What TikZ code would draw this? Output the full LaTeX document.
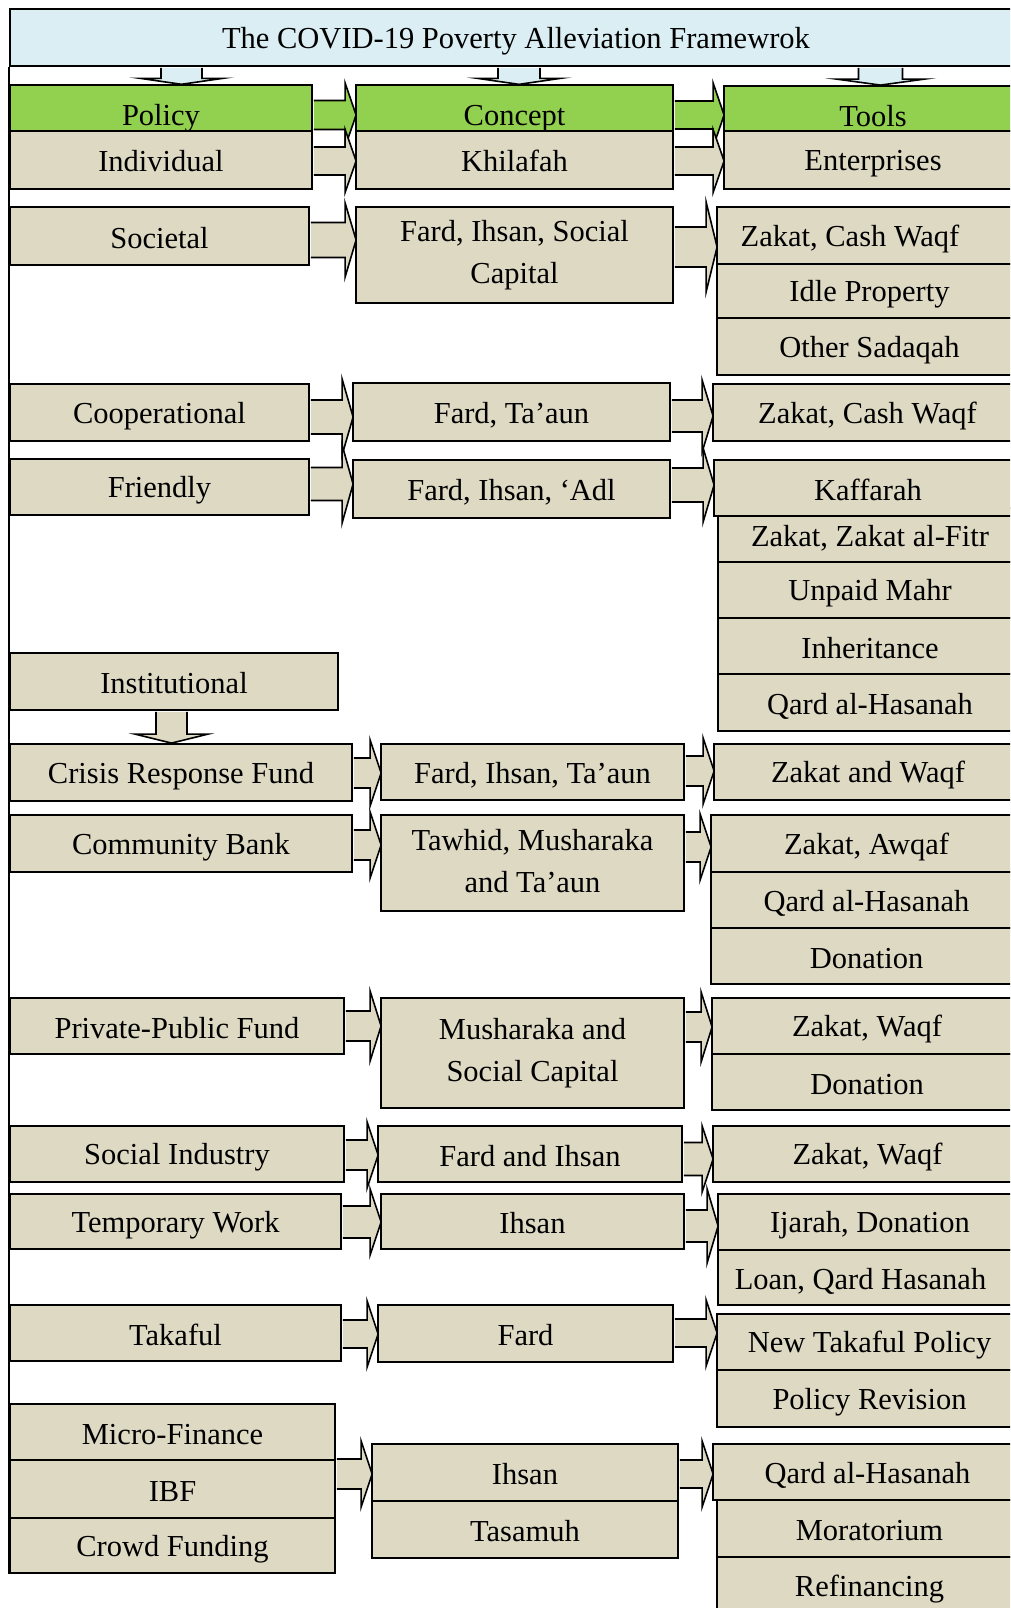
\documentclass[tikz,border=0pt]{standalone}
\usepackage{fontspec}
\setmainfont{Liberation Serif}
\usetikzlibrary{calc}
\definecolor{tanc}{HTML}{DDD9C3}
\definecolor{grn}{HTML}{92D050}
\definecolor{lblue}{HTML}{DAEEF3}
\tikzset{
  bx/.style={draw=black, line width=1.8pt, fill=tanc, rectangle, inner sep=0pt, align=center,
    execute at begin node={\rule[-4pt]{0pt}{32pt}}},
  hdr/.style={fill=grn, execute at begin node={\rule[-2pt]{0pt}{42pt}}},
  ttl/.style={fill=lblue},
  arr/.style={draw=black, line width=1.6pt, line join=miter, miter limit=20},
}
% box: [style] name x1 y1 x2 y2 text
\newcommand\mybox[7][]{%
  \pgfmathsetmacro\bw{#5-#3}\pgfmathsetmacro\bh{#6-#4}%
  \node[bx,#1,minimum width=\bw pt,minimum height=\bh pt] (#2) at ({(#3+#5)/2},{(#4+#6)/2}) {#7};}
% right block arrow: [fill] src dst yc h H
\newcommand\barrow[6][tanc]{%
  \path (#2.east |- 0,#4) coordinate (ba) (#3.west |- 0,#4) coordinate (bb);
  \draw[arr,fill=#1] ($(ba)+(1,-#5)$) -- ($(bb)+(-10,-#5)$) -- ($(bb)+(-10,-#6)$) -- ($(bb)+(1,0)$)
     -- ($(bb)+(-10,#6)$) -- ($(bb)+(-10,#5)$) -- ($(ba)+(1,#5)$);}
% down block arrow: fill src dst cx hw HW depth
\newcommand\darrow[7]{%
  \path (#2.south -| #4,0) coordinate (da) (#3.north -| #4,0) coordinate (db);
  \draw[arr,fill=#1] ($(da)+(-#5,1)$) -- ($(db)+(-#5,-#7)$) -- ($(db)+(-#6,-#7)$) -- (db)
     -- ($(db)+(#6,-#7)$) -- ($(db)+(#5,-#7)$) -- ($(da)+(#5,1)$);}
\begin{document}
\begin{tikzpicture}[x=1pt,y=-1pt,font=\fontsize{30.5}{42}\selectfont]
\useasboundingbox (0,0) rectangle (1010,1608);
\clip (0,0) rectangle (1010,1608);
\fill[white] (0,0) rectangle (1010,1608);
\def\R{1022}
% title
\mybox[ttl]{title}{10}{9}{\R}{66}{The COVID-19 Poverty Alleviation Framewrok}
% column 1
\mybox[hdr]{pol}{10}{86}{312}{131}{Policy}
\mybox{ind}{10}{131}{312}{189}{Individual}
\mybox{soc}{10}{207}{309}{265}{Societal}
\mybox{coop}{10}{384}{309}{441}{Cooperational}
\mybox{fri}{10}{459}{309}{515}{Friendly}
\mybox{inst}{10}{653}{338}{710}{Institutional}
\mybox{crf}{10}{744}{352}{801}{Crisis Response Fund}
\mybox{cb}{10}{815}{352}{872}{Community Bank}
\mybox{ppf}{10}{998}{344}{1054}{Private-Public Fund}
\mybox{si}{10}{1126}{344}{1182}{Social Industry}
\mybox{tw}{10}{1194}{341}{1249}{Temporary Work}
\mybox{tak}{10}{1305}{341}{1361}{Takaful}
\mybox{mf}{10}{1404}{335}{1460}{Micro-Finance}
\mybox{ibf}{10}{1460}{335}{1518}{IBF}
\mybox{cf}{10}{1518}{335}{1573}{Crowd Funding}
% column 2
\mybox[hdr]{con}{356}{86}{673}{131}{Concept}
\mybox{khi}{356}{131}{673}{189}{Khilafah}
\mybox{fis}{356}{207}{673}{303}{Fard, Ihsan, Social\\Capital}
\mybox{fta}{353}{383}{670}{441}{Fard, Ta’aun}
\mybox{fia}{353}{460}{670}{518}{Fard, Ihsan, ‘Adl}
\mybox{fit}{381}{744}{684}{800}{Fard, Ihsan, Ta’aun}
\mybox{tmt}{381}{815}{684}{911}{Tawhid, Musharaka\\and Ta’aun}
\mybox{msc}{381}{998}{684}{1108}{Musharaka and\\Social Capital}
\mybox{fai}{378}{1126}{682}{1182}{Fard and Ihsan}
\mybox{iha}{381}{1194}{684}{1249}{Ihsan}
\mybox{fard}{378}{1305}{673}{1362}{Fard}
\mybox{ihb}{372}{1444}{678}{1501}{Ihsan}
\mybox{tas}{372}{1501}{678}{1558}{Tasamuh}
% column 3
\mybox[hdr]{tools}{724}{86}{\R}{131}{Tools}
\mybox{ent}{724}{131}{\R}{189}{Enterprises}
\mybox{zcwa}{717}{207}{\R}{264}{\hspace*{-39pt}Zakat, Cash Waqf}
\mybox{idle}{717}{264}{\R}{318}{Idle Property}
\mybox{oth}{717}{318}{\R}{375}{Other Sadaqah}
\mybox{zcwb}{713}{384}{\R}{441}{Zakat, Cash Waqf}
\mybox{zzf}{718}{508}{\R}{562}{Zakat, Zakat al-Fitr}
\mybox{kaf}{714}{460}{\R}{516}{Kaffarah}
\mybox{um}{718}{562}{\R}{618}{Unpaid Mahr}
\mybox{inh}{718}{618}{\R}{674}{Inheritance}
\mybox{qha}{718}{674}{\R}{731}{Qard al-Hasanah}
\mybox{zwa}{714}{744}{\R}{800}{Zakat and Waqf}
\mybox{za}{711}{815}{\R}{872}{Zakat, Awqaf}
\mybox{qhb}{711}{872}{\R}{928}{Qard al-Hasanah}
\mybox{dona}{711}{928}{\R}{984}{Donation}
\mybox{zwb}{712}{998}{\R}{1054}{Zakat, Waqf}
\mybox{donb}{712}{1054}{\R}{1110}{Donation}
\mybox{zwc}{713}{1126}{\R}{1182}{Zakat, Waqf}
\mybox{ija}{718}{1194}{\R}{1250}{Ijarah, Donation}
\mybox{loan}{718}{1250}{\R}{1305}{\hspace*{-19pt}Loan, Qard Hasanah}
\mybox{ntp}{717}{1314}{\R}{1370}{New Takaful Policy}
\mybox{pr}{717}{1370}{\R}{1427}{Policy Revision}
\mybox{qhc}{713}{1444}{\R}{1500}{Qard al-Hasanah}
\mybox{mor}{717}{1500}{\R}{1557}{Moratorium}
\mybox{rf}{717}{1557}{\R}{1614}{Refinancing}
% left spine
\draw[line width=1.8pt] (title.south west) -- (cf.south west);
% down arrows
\darrow{lblue}{title}{pol}{181.5}{20.5}{41.5}{6}
\darrow{lblue}{title}{con}{519}{21}{41.5}{6}
\darrow{lblue}{title}{tools}{880.5}{22}{44}{6}
\darrow{tanc}{inst}{crf}{171.5}{15.5}{36.5}{9}
% right arrows
\barrow[grn]{pol}{con}{115}{14.5}{32}
\barrow[grn]{con}{tools}{115}{14}{32}
\barrow{ind}{khi}{161}{14}{31.5}
\barrow{khi}{ent}{161}{14}{31.5}
\barrow{soc}{fis}{240}{17.5}{37}
\barrow{fis}{zcwa}{247}{20}{45}
\barrow{coop}{fta}{417}{17}{38}
\barrow{fta}{zcwb}{416}{16}{36}
\barrow{fri}{fia}{484}{16.5}{39}
\barrow{fia}{kaf}{485}{17}{37}
\barrow{crf}{fit}{773}{15}{33}
\barrow{fit}{zwa}{771}{15}{33}
\barrow{cb}{tmt}{845}{15}{33}
\barrow{tmt}{za}{847}{15}{33}
\barrow{ppf}{msc}{1026}{15}{35}
\barrow{msc}{zwb}{1027}{15}{35}
\barrow{si}{fai}{1155}{15}{33}
\barrow{fai}{zwc}{1159}{16.5}{33}
\barrow{tw}{iha}{1222}{16}{33}
\barrow{iha}{ija}{1226}{16}{37}
\barrow{tak}{fard}{1334}{14}{33}
\barrow{fard}{ntp}{1333}{14}{33}
\barrow{ibf}{ihb}{1474}{15}{33}
\barrow{ihb}{qhc}{1474}{14}{33}
\end{tikzpicture}
\end{document}
